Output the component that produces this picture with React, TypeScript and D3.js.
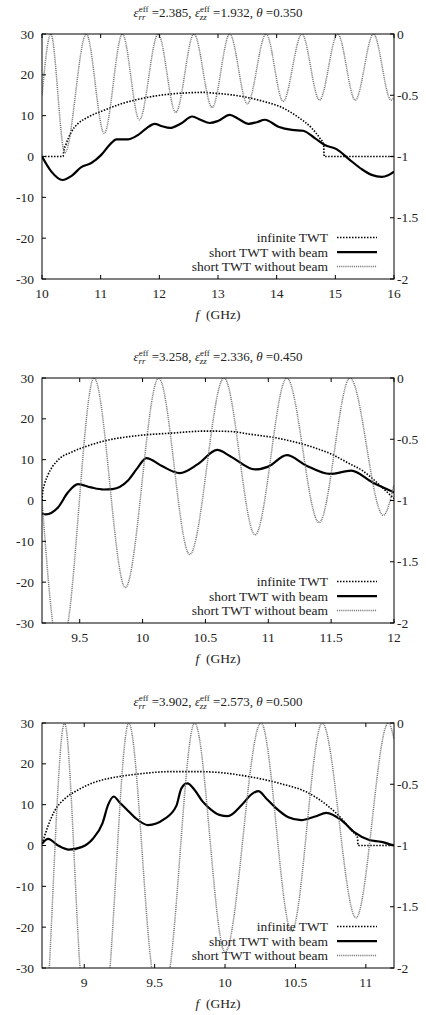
import React from "react";
import * as d3 from "d3";

type Pt = [number, number];

// ---------- data (frequency GHz, value) ----------
// Panel 1
const p1Infinite: Pt[] = [
  [10, 0], [10.36, 0], [10.37, 1.2], [10.41, 3.0], [10.5, 6.0], [10.61, 8.0], [10.78, 9.6],
  [11.07, 11.4], [11.35, 12.9], [11.64, 14.0], [11.92, 14.8], [12.2, 15.3], [12.49, 15.6],
  [12.75, 15.7], [12.95, 15.5], [13.23, 15.1], [13.52, 14.4], [13.8, 13.4], [14.09, 12.0],
  [14.37, 9.6], [14.6, 6.9], [14.74, 4.4], [14.8, 3.0], [14.81, 0], [16, 0],
];
const p1WithBeam: Pt[] = [
  [10, 0], [10.16, -3.7], [10.35, -5.75], [10.5, -4.8], [10.67, -2.6], [10.84, -1.6],
  [11.01, 0.4], [11.15, 2.8], [11.27, 4.2], [11.47, 4.2], [11.64, 5.3], [11.78, 6.9],
  [11.92, 8.0], [12.05, 7.4], [12.18, 7.0], [12.37, 8.1], [12.56, 9.8], [12.7, 9.0],
  [12.86, 8.2], [13.0, 8.7], [13.2, 10.2], [13.35, 9.2], [13.52, 8.0], [13.66, 8.4],
  [13.8, 9.0], [14.03, 7.3], [14.26, 6.5], [14.45, 6.3], [14.65, 4.5], [14.82, 2.8],
  [15.02, 1.8], [15.22, -0.5], [15.45, -3.1], [15.62, -4.5], [15.79, -5.0], [15.9, -4.6],
  [16, -3.7],
];
const p1WithoutBeam: Pt[] = [
  [10, -0.5], [10.15, 0], [10.39, -0.97], [10.755, 0], [11.06, -0.81], [11.37, 0],
  [11.66, -0.7], [11.98, 0], [12.28, -0.64], [12.59, 0], [12.9, -0.6], [13.2, 0],
  [13.5, -0.57], [13.82, 0], [14.11, -0.55], [14.43, 0], [14.73, -0.54], [15.04, 0],
  [15.34, -0.54], [15.65, 0], [15.95, -0.54], [16, -0.52],
];

// Panel 2
const p2Infinite: Pt[] = [
  [9.2, 0], [9.205, 2.0], [9.22, 4.0], [9.248, 6.3], [9.327, 9.9], [9.433, 11.8],
  [9.566, 13.4], [9.698, 14.6], [9.964, 15.9], [10.23, 16.5], [10.5, 17.0], [10.7, 16.9],
  [10.84, 16.3], [11.1, 15.1], [11.37, 12.9], [11.5, 11.4], [11.64, 9.1], [11.75, 7.3],
  [11.85, 4.8], [11.93, 2.5], [12, 0.5],
];
const p2WithBeam: Pt[] = [
  [9.2, -3.3], [9.23, -3.4], [9.327, -1.7], [9.407, 2.0], [9.486, 4.0], [9.59, 3.2],
  [9.69, 2.7], [9.76, 2.8], [9.884, 4.9], [9.96, 8.0], [10.03, 10.4], [10.15, 8.5],
  [10.295, 6.7], [10.44, 8.9], [10.594, 12.4], [10.7, 10.8], [10.895, 7.6], [11.0, 8.3],
  [11.147, 11.1], [11.3, 8.6], [11.49, 6.5], [11.66, 7.3], [11.83, 4.4], [12, 2.0],
];
const p2WithoutBeam: Pt[] = [
  [9.2, -1.0], [9.285, -2.0], [9.345, -2.35], [9.407, -2.0], [9.614, 0], [9.863, -1.71],
  [10.128, 0], [10.375, -1.44], [10.648, 0], [10.895, -1.28], [11.147, 0], [11.404, -1.18],
  [11.65, 0], [11.915, -1.12], [12, -0.87],
];

// Panel 3
const p3Infinite: Pt[] = [
  [8.7, 0.4], [8.72, 2.5], [8.743, 4.8], [8.79, 8.5], [8.86, 11.4], [8.956, 13.6],
  [9.074, 15.5], [9.216, 16.7], [9.382, 17.5], [9.618, 18.1], [9.8, 18.1], [9.95, 17.9],
  [10.165, 16.9], [10.4, 15.1], [10.59, 12.9], [10.73, 9.7], [10.83, 6.5], [10.9, 3.6],
  [10.94, 2.0], [10.945, 0], [11.2, 0],
];
const p3WithBeam: Pt[] = [
  [8.7, 0.4], [8.743, 1.6], [8.814, 0], [8.89, -1.0], [8.98, -0.4], [9.06, 1.6],
  [9.13, 5.5], [9.17, 10.0], [9.21, 12.0], [9.25, 10.6], [9.3, 8.9], [9.358, 6.9],
  [9.453, 5.0], [9.57, 6.5], [9.654, 9.7], [9.69, 14.0], [9.732, 15.2], [9.784, 13.6],
  [9.84, 10.8], [9.9, 8.8], [9.96, 7.5], [10.02, 7.2], [10.12, 10.0], [10.19, 12.6],
  [10.236, 13.3], [10.296, 11.4], [10.36, 9.2], [10.45, 6.9], [10.54, 6.2], [10.64, 7.1],
  [10.72, 8.0], [10.83, 6.1], [10.92, 3.2], [11.02, 1.4], [11.11, 0.9], [11.2, 0],
];
const p3WithoutBeam: Pt[] = [
  [8.7, -3.3], [8.752, -2.0], [8.86, 0], [8.97, -2.0], [9.077, -3.6], [9.183, -2.0],
  [9.316, 0], [9.479, -2.0], [9.544, -2.45], [9.609, -2.0], [9.784, 0], [10.0, -1.87],
  [10.255, 0], [10.473, -1.7], [10.69, 0], [10.93, -1.59], [11.16, 0], [11.2, -0.13],
];

// axes / labels
const xDomains: [number, number][] = [[10, 16], [9.2, 12], [8.7, 11.2]];
const xTickValues: number[][] = [
  [10, 11, 12, 13, 14, 15, 16],
  [9.5, 10, 10.5, 11, 11.5, 12],
  [9, 9.5, 10, 10.5, 11],
];
const yTickValues = [-30, -20, -10, 0, 10, 20, 30];
const y2TickValues = [-2, -1.5, -1, -0.5, 0];
const epsRR = ["2.385", "3.258", "3.902"];
const epsZZ = ["1.932", "2.336", "2.573"];
const thetas = ["0.350", "0.450", "0.500"];
const legendLabels = ["infinite TWT", "short TWT with beam", "short TWT without beam"];
const xLabel = "(GHz)";

const infiniteSeries = [p1Infinite, p2Infinite, p3Infinite];
const withBeamSeries = [p1WithBeam, p2WithBeam, p3WithBeam];
const withoutBeamSeries = [p1WithoutBeam, p2WithoutBeam, p3WithoutBeam];

// ---------- layout ----------
const W = 426;
const H = 1015;
const L = 42;
const R = 394;
const PH = 245;
const panelTops = [34, 378, 723];
const FONT = '"Liberation Serif", "DejaVu Serif", serif';
const FS = 13.5;
const TICK = 4;

const txt: React.CSSProperties = { fontFamily: FONT, whiteSpace: "pre" };

function Title({ top, i }: { top: number; i: number }) {
  return (
    <text x={(L + R) / 2} y={top - 17.5} textAnchor="middle" fontSize={13} style={txt}>
      <tspan fontStyle="italic">ε</tspan>
      <tspan fontSize={9} dy={-5}>eff</tspan>
      <tspan fontSize={9} fontStyle="italic" dx={-10} dy={8}>rr</tspan>
      <tspan dx={3} dy={-3}>{` =${epsRR[i]}, `}</tspan>
      <tspan fontStyle="italic">ε</tspan>
      <tspan fontSize={9} dy={-5}>eff</tspan>
      <tspan fontSize={9} fontStyle="italic" dx={-10} dy={8}>zz</tspan>
      <tspan dx={3} dy={-3}>{` =${epsZZ[i]}, `}</tspan>
      <tspan fontStyle="italic">θ</tspan>
      <tspan>{` =${thetas[i]}`}</tspan>
    </text>
  );
}

function Panel({ i }: { i: number }) {
  const top = panelTops[i];
  const bottom = top + PH;
  const x = d3.scaleLinear().domain(xDomains[i]).range([L, R]);
  const y = d3.scaleLinear().domain([-30, 30]).range([bottom, top]);
  const y2 = d3.scaleLinear().domain([-2, 0]).range([bottom, top]);
  const lineL = d3
    .line<Pt>()
    .x((d) => x(d[0]))
    .y((d) => y(d[1]))
    .curve(d3.curveMonotoneX);
  const lineR = d3
    .line<Pt>()
    .x((d) => x(d[0]))
    .y((d) => y2(d[1]))
    .curve(d3.curveMonotoneX);
  const clipId = `clip-${i}`;

  const legendX0 = 337;
  const legendX1 = 377;
  const legendTextX = 328;
  const legendYs = [bottom - 41.5, bottom - 26.8, bottom - 12.5];
  const styles = [
    { stroke: "#000", strokeWidth: 1.6, strokeDasharray: "1.5,1.5" },
    { stroke: "#000", strokeWidth: 2.2, strokeDasharray: undefined as string | undefined },
    { stroke: "#747474", strokeWidth: 1.5, strokeDasharray: "1,0.9" },
  ];

  return (
    <g>
      <defs>
        <clipPath id={clipId}>
          <rect x={L} y={top} width={R - L} height={PH} />
        </clipPath>
      </defs>
      <Title top={top} i={i} />

      <g clipPath={`url(#${clipId})`} fill="none">
        <path d={lineL(infiniteSeries[i]) || ""} {...styles[0]} />
        <path d={lineL(withBeamSeries[i]) || ""} {...styles[1]} strokeLinejoin="round" />
        <path d={lineR(withoutBeamSeries[i]) || ""} {...styles[2]} />
      </g>

      <rect x={L} y={top} width={R - L} height={PH} fill="none" stroke="#000" strokeWidth={1} />

      {xTickValues[i].map((v) => (
        <g key={`x${v}`}>
          <line x1={x(v)} x2={x(v)} y1={bottom} y2={bottom - TICK} stroke="#000" />
          <line x1={x(v)} x2={x(v)} y1={top} y2={top + TICK} stroke="#000" />
          <text x={x(v)} y={top + 263.5} textAnchor="middle" fontSize={FS} style={txt}>
            {String(v)}
          </text>
        </g>
      ))}
      {yTickValues.map((v) => (
        <g key={`y${v}`}>
          <line x1={L} x2={L + TICK} y1={y(v)} y2={y(v)} stroke="#000" />
          <text x={L - 8} y={y(v) + 4.5} textAnchor="end" fontSize={FS} style={txt}>
            {String(v)}
          </text>
        </g>
      ))}
      {y2TickValues.map((v) => (
        <g key={`y2${v}`}>
          <line x1={R} x2={R - TICK} y1={y2(v)} y2={y2(v)} stroke="#000" />
          <text x={R + 3} y={y2(v) + 4.5} textAnchor="start" fontSize={FS} style={txt}>
            {String(v)}
          </text>
        </g>
      ))}

      <text x={(L + R) / 2} y={top + 285} textAnchor="middle" fontSize={FS} style={txt}>
        <tspan fontStyle="italic">f</tspan>
        <tspan>{`  ${xLabel}`}</tspan>
      </text>

      {legendLabels.map((lab, k) => (
        <g key={lab}>
          <text x={legendTextX} y={legendYs[k] + 4.5} textAnchor="end" fontSize={FS} style={txt}>
            {lab}
          </text>
          <line x1={legendX0} x2={legendX1} y1={legendYs[k]} y2={legendYs[k]} {...styles[k]} />
        </g>
      ))}
    </g>
  );
}

export default function App() {
  return (
    <svg
      width={W}
      height={H}
      viewBox={`0 0 ${W} ${H}`}
      style={{ position: "absolute", left: 0, top: 0, background: "#fff", fontFamily: FONT }}
      fill="#222"
    >
      <rect x={0} y={0} width={W} height={H} fill="#fff" />
      {[0, 1, 2].map((i) => (
        <Panel key={i} i={i} />
      ))}
    </svg>
  );
}
